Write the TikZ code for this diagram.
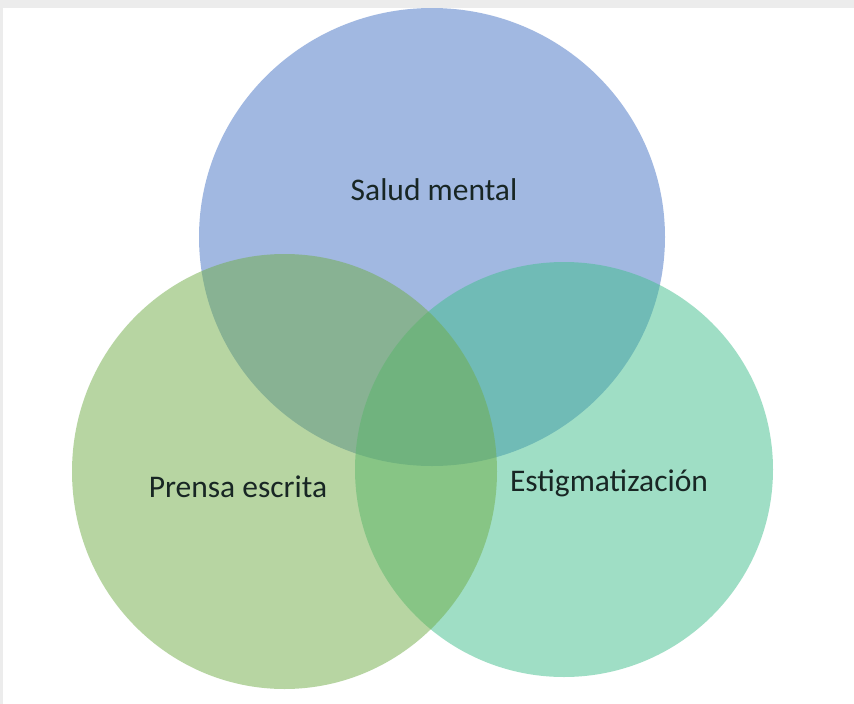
\documentclass[tikz,border=0pt]{standalone}
\usepackage{fontspec}
\setmainfont{Carlito}
\definecolor{mentalblue}{RGB}{68,114,196}
\definecolor{prensagreen}{RGB}{112,173,71}
\definecolor{estigmateal}{RGB}{65,191,141}
\definecolor{textdark}{RGB}{24,38,36}
\definecolor{framegray}{RGB}{236,236,236}
\tikzset{
  venn/.style={fill opacity=0.5},
  label text/.style={text=textdark, font=\fontsize{31.5}{36}\selectfont, inner sep=0pt}
}
\begin{document}
\begin{tikzpicture}[x=1pt,y=-1pt]

  \useasboundingbox (0,0) rectangle (854,704);
  \fill[white] (0,0) rectangle (854,704);

  % Frame
  \fill[framegray] (0,0) rectangle (854,8);
  \fill[framegray] (0,8) rectangle (3,704);

  \coordinate (C1) at (432,237);
  \coordinate (C2) at (284.5,471.5);
  \coordinate (C3) at (564,469.5);

  % Draw circles
  \fill[venn, mentalblue] (C1) ellipse [x radius=233pt, y radius=229pt];
  \fill[venn, estigmateal] (C3) ellipse [x radius=209pt, y radius=207.5pt];
  \fill[venn, prensagreen] (C2) ellipse [x radius=212.5pt, y radius=217.5pt];

  % Labels
  \node[label text] (salud) at (434,190) {Salud mental};
  \node[label text] (prensa) at (238,487) {Prensa escrita};
  \node[label text] (estigma) at (609,483) {Estigmatización};

\end{tikzpicture}
\end{document}
